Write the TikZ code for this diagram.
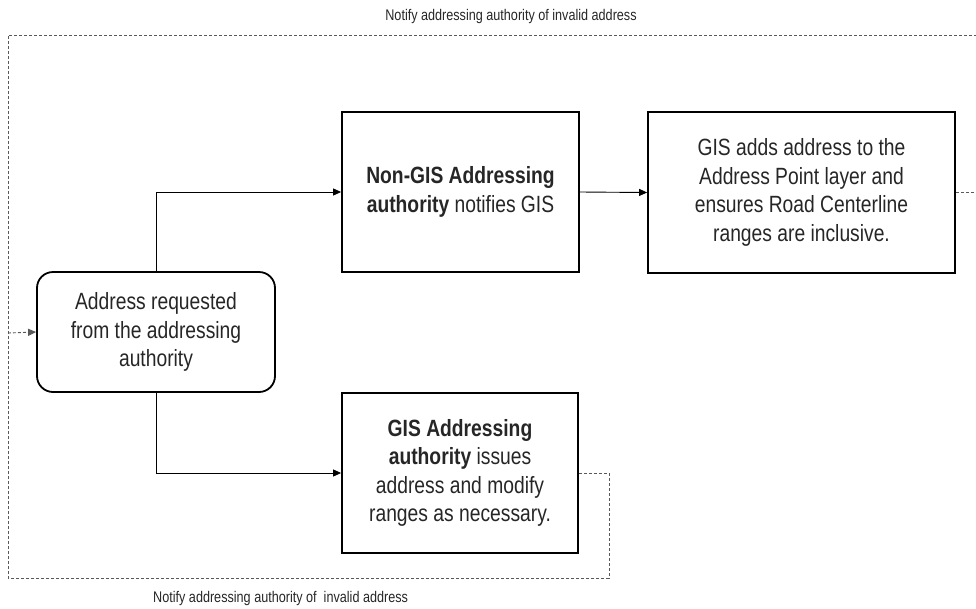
\documentclass[tikz,border=0pt]{standalone}
\usepackage{fontspec}
\newfontfamily\nf[FakeStretch=0.82]{Liberation Sans}
\usetikzlibrary{arrows.meta}
\begin{document}
\begin{tikzpicture}[x=1pt,y=-1pt,
  box/.style={draw=black, line width=1.8pt, align=center, inner sep=0pt,
    font=\nf\fontsize{23.5}{28.5}\selectfont, text=black!85},
  conn/.style={draw=black, line width=0.9pt, -{Triangle[length=8pt,width=7pt]}},
  dashline/.style={draw=black!65, line width=0.9pt, dash pattern=on 3pt off 2pt},
  lbl/.style={font=\nf\fontsize{15.4}{18}\selectfont, text=black!85, inner sep=0pt}]
\useasboundingbox (0,0) rectangle (976,608);
\node[box, rounded corners=16pt, minimum width=238pt, minimum height=120pt] (A) at (156,332)
  {Address requested\\from the addressing\\authority};
\node[box, minimum width=237pt, minimum height=160pt] (B) at (460.5,192)
  {\textbf{Non-GIS Addressing}\\\textbf{authority} notifies GIS};
\node[box, minimum width=307pt, minimum height=161pt] (C) at (801.5,192.5)
  {GIS adds address to the\\Address Point layer and\\ensures Road Centerline\\ranges are inclusive.};
\node[box, minimum width=236pt, minimum height=160pt] (D) at (460,473)
  {\textbf{GIS Addressing}\\\textbf{authority} issues\\address and modify\\ranges as necessary.};
\node[lbl, anchor=base] (T) at (511,20) {Notify addressing authority of invalid address};
\node[lbl, anchor=base west] (L) at (153,602) {Notify addressing authority of\ \ invalid address};
\coordinate (J) at (8,333);
\draw[conn] (A.north) |- (B.west);
\draw[conn] (A.south) |- (D.west);
\draw[conn] (B.east) -- (C.west);
\draw[dashline] (C.east) -- (995,192.5) -- (995,35) -- (8,35) -- (J);
\draw[dashline] (D.east) -- (609,473) -- (609,578) -- (8,578) -- (J);
\draw[dashline, -{Triangle[length=8pt,width=7pt]}] (J) -- (A.west);
\end{tikzpicture}
\end{document}
